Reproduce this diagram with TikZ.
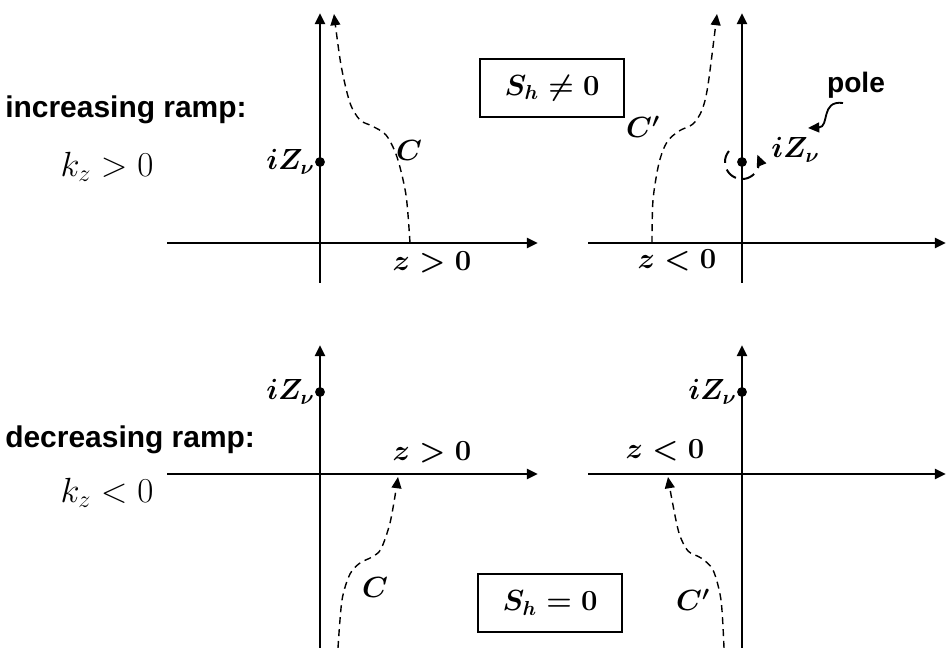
\documentclass[tikz,border=0pt]{standalone}
\usepackage{fontspec}
\setsansfont{Liberation Sans}
\usepackage{amsmath}
\usepackage{bm}
\usetikzlibrary{arrows.meta}

\begin{document}
\begin{tikzpicture}[x=0.025cm,y=-0.025cm,>={Triangle[length=8pt,width=7pt]}]
    \tikzset{
        axisline/.style={line width=2pt,->},
        contour/.style={line width=1pt,dash pattern=on 5pt off 3.5pt,->},
        ramptext/.style={font=\fontsize{21.3}{25}\sffamily\bfseries,inner sep=0pt},
        kzlbl/.style={font=\fontsize{25}{30}\selectfont,inner sep=0pt},
        zlbl/.style={font=\fontsize{21}{25}\selectfont\boldmath,inner sep=0pt},
        zvlbl/.style={font=\fontsize{20}{24}\selectfont\boldmath,inner sep=0pt},
        clbl/.style={font=\fontsize{20}{24}\selectfont\boldmath,inner sep=0pt},
        shbox/.style={draw,line width=1.5pt,minimum width=3.6cm,minimum height=1.45cm,
            font=\fontsize{22}{26}\selectfont\boldmath},
        dot/.style={circle,fill,inner sep=0pt,minimum size=7pt}
    }
    \useasboundingbox (0,0) rectangle (948,648);

    % Bal oldali feliratok
    \node[ramptext,anchor=west] (incr) at (5,110) {increasing ramp:};
    \node[kzlbl] (kpos) at (107,167) {$k_z > 0$};
    \node[ramptext,anchor=west] (decr) at (5,440) {decreasing ramp:};
    \node[kzlbl] (kneg) at (107,493) {$k_z < 0$};

    % Felso bal: z > 0
    \draw[axisline] (167,243) -- (538,243);
    \draw[axisline] (320,283) -- (320,13);
    \node[dot] (zvA) at (320,162) {};
    \node[zvlbl,anchor=east] at (zvA.west) {$iZ_\nu$};
    \draw[contour] plot[smooth] coordinates {(410,243) (406,195) (397,157) (386,135)
        (372,126) (360,120) (350,103) (341,65) (334,14)};
    \node[clbl] (cA) at (409,150) {$C$};
    \node[zlbl] (zA) at (432,262) {$z > 0$};
    \node[shbox] (shA) at (552,88) {$S_h \neq 0$};

    % Felso jobb: z < 0, polus
    \draw[axisline] (588,243) -- (946,243);
    \draw[axisline] (742,283) -- (742,13);
    \node[dot] (zvB) at (742,162) {};
    \node[zvlbl,anchor=west] at (771,150) {$iZ_\nu$};
    \draw[line width=1.4pt,dash pattern=on 9pt off 5pt,->]
        plot[domain=140:385,samples=40] ({742+17*cos(\x)},{162-17*sin(\x)});
    \node[ramptext,font=\fontsize{20}{24}\sffamily\bfseries] (pole) at (856,85) {pole};
    \coordinate (poletail) at (843,103);
    \draw[line width=1.3pt,->] (poletail) .. controls (820,100) and (830,127) .. (808,128);
    \draw[contour] plot[smooth] coordinates {(652,243) (653,200) (659,163) (667,142)
        (679,131) (693,124) (702,110) (708,85) (717,14)};
    \node[clbl] (cB) at (643,127) {$C'$};
    \node[zlbl] (zB) at (677,260) {$z < 0$};

    % Also bal: z > 0
    \draw[axisline] (167,474) -- (538,474);
    \draw[axisline] (320,648) -- (320,345);
    \node[dot] (zvC) at (320,392) {};
    \node[zvlbl,anchor=east] at (zvC.west) {$iZ_\nu$};
    \draw[contour] plot[smooth] coordinates {(338,648) (342,600) (350,574) (360,563)
        (372,557) (381,549) (390,523) (396,490) (398,477)};
    \node[clbl] (cC) at (375,587) {$C$};
    \node[zlbl] (zC) at (432,452) {$z > 0$};
    \node[shbox] (shC) at (550,603) {$S_h = 0$};

    % Also jobb: z < 0
    \draw[axisline] (588,474) -- (946,474);
    \draw[axisline] (742,648) -- (742,345);
    \node[dot] (zvD) at (742,392) {};
    \node[zvlbl,anchor=east] at (zvD.west) {$iZ_\nu$};
    \draw[contour] plot[smooth] coordinates {(724,648) (721,600) (713,570) (701,558)
        (688,551) (679,533) (672,500) (668,477)};
    \node[clbl] (cD) at (693,600) {$C'$};
    \node[zlbl] (zD) at (665,450) {$z < 0$};
\end{tikzpicture}
\end{document}
